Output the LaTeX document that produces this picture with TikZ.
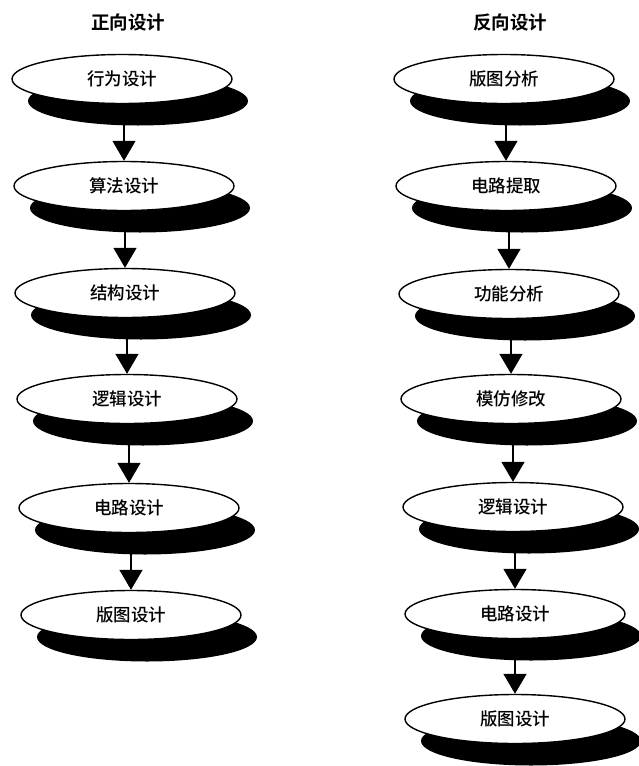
\documentclass[tikz,border=0pt]{standalone}
\usepackage{fontspec}
\newfontfamily\cjk{Noto Sans CJK SC Medium}
\newfontfamily\cjkb{Noto Sans CJK SC Bold}
\usetikzlibrary{shapes.geometric,arrows.meta,shadows}
\begin{document}
\begin{tikzpicture}[x=1pt,y=-1pt,
  stage/.style={ellipse, draw=black, line width=1.4pt, fill=white,
    minimum width=220pt, minimum height=49pt, inner sep=0pt,
    font=\cjk\fontsize{17.5}{19}\selectfont,
    general shadow={shadow xshift=16pt, shadow yshift=-22pt, fill=black}},
  title/.style={font=\cjkb\fontsize{18.5}{20}\selectfont, inner sep=0pt},
  flow/.style={line width=1.6pt, -{Triangle[width=23pt,length=20pt]}}]
\useasboundingbox (0,0) rectangle (639,766);
\node[title] (tl) at (128,22) {正向设计};
\node[title] (tr) at (510,22) {反向设计};
% left column
\node[stage] (l1) at (122,79) {行为设计};
\node[stage] (l2) at (124,186) {算法设计};
\node[stage] (l3) at (125,293) {结构设计};
\node[stage] (l4) at (127,399) {逻辑设计};
\node[stage] (l5) at (129,508) {电路设计};
\node[stage] (l6) at (131,615) {版图设计};
% right column
\node[stage] (r1) at (504,79) {版图分析};
\node[stage] (r2) at (506,186) {电路提取};
\node[stage] (r3) at (509,294) {功能分析};
\node[stage] (r4) at (511,399) {模仿修改};
\node[stage] (r5) at (513,507) {逻辑设计};
\node[stage] (r6) at (515,614) {电路设计};
\node[stage] (r7) at (515,719) {版图设计};
\foreach \a/\b in {l1/l2,l2/l3,l3/l4,l4/l5,l5/l6,r1/r2,r2/r3,r3/r4,r4/r5,r5/r6,r6/r7}
  \draw[flow] ([yshift=-21pt]\a.south -| \b.north) -- (\b.north);
\end{tikzpicture}
\end{document}
